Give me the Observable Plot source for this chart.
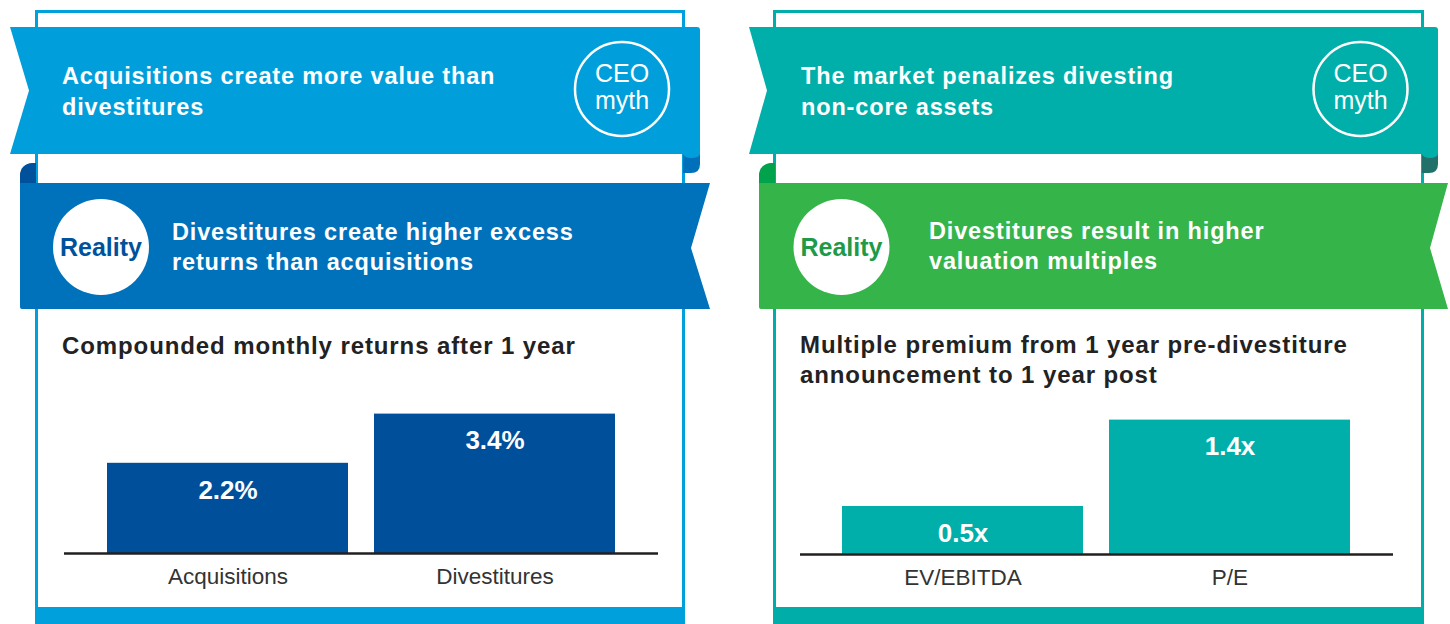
<!DOCTYPE html>
<html><head><meta charset="utf-8">
<script src="https://cdn.jsdelivr.net/npm/d3@7"></script>
<script src="https://cdn.jsdelivr.net/npm/@observablehq/plot@0.6"></script>
<style>
html,body{margin:0;padding:0;background:#fff;}
#root{position:relative;width:1450px;height:624px;overflow:hidden;background:#fff;}
#deco{position:absolute;left:0;top:0;}
.chart{position:absolute;}
.bt{font-family:'Liberation Sans',Arial,sans-serif;font-weight:bold;font-size:23.5px;letter-spacing:0.85px;fill:#fff;}
.st{font-family:'Liberation Sans',Arial,sans-serif;font-weight:bold;font-size:24px;letter-spacing:0.9px;fill:#222;}
.ceo{font-family:'Liberation Sans',Arial,sans-serif;font-size:25px;fill:#fff;text-anchor:middle;}
.real{font-family:'Liberation Sans',Arial,sans-serif;font-weight:bold;font-size:25px;text-anchor:middle;}
</style></head><body>
<div id="root">
<svg id="deco" width="1450" height="624">
  <!-- LEFT PANEL -->
  <rect x="36.5" y="11.5" width="647" height="605" fill="none" stroke="#00A0DC" stroke-width="3"/>
  <rect x="35" y="607" width="650" height="17" fill="#00A0DC"/>
  <path d="M683,150 L700,150 L700,164 Q700,173 691,173 L683,173 Z" fill="#0070BA"/>
  <path d="M10,27 L697,27 Q700,27 700,30 L700,154 L10,154 L29,90.5 Z" fill="#009FDB"/>
  <ellipse cx="691.5" cy="154" rx="8.5" ry="4" fill="#009FDB"/>
  <path d="M20,183 L20,175 A12,12 0 0 1 32,163 L36,163 L36,183 Z" fill="#00519C"/>
  <path d="M20,183 L710,183 L691,248 L710,309 L22,309 Q20,309 20,307 Z" fill="#0071BB"/>
  <text class="bt"><tspan x="62" y="84">Acquisitions create more value than</tspan><tspan x="62" y="115">divestitures</tspan></text>
  <circle cx="622" cy="89" r="47" fill="none" stroke="#fff" stroke-width="2.5"/>
  <text class="ceo"><tspan x="622" y="82">CEO</tspan><tspan x="622" y="109">myth</tspan></text>
  <circle cx="101" cy="247" r="48" fill="#fff"/>
  <text class="real" x="101" y="256" fill="#00529C">Reality</text>
  <text class="bt"><tspan x="172" y="240">Divestitures create higher excess</tspan><tspan x="172" y="270">returns than acquisitions</tspan></text>
  <text class="st" x="62" y="354">Compounded monthly returns after 1 year</text>

  <!-- RIGHT PANEL -->
  <rect x="774.5" y="11.5" width="648" height="605" fill="none" stroke="#00ADA8" stroke-width="3"/>
  <rect x="773" y="607" width="651" height="17" fill="#00ADA8"/>
  <path d="M1422,150 L1438,150 L1438,164 Q1438,173 1429,173 L1422,173 Z" fill="#22706A"/>
  <path d="M749,27 L1435,27 Q1438,27 1438,30 L1438,154 L749,154 L767,90.5 Z" fill="#00AFA9"/>
  <ellipse cx="1430" cy="154" rx="8" ry="4" fill="#00AFA9"/>
  <path d="M759,183 L759,175 A12,12 0 0 1 771,163 L775,163 L775,183 Z" fill="#00A24C"/>
  <path d="M759,183 L1448,183 L1430,248 L1448,309 L761,309 Q759,309 759,307 Z" fill="#35B44A"/>
  <text class="bt"><tspan x="801" y="84">The market penalizes divesting</tspan><tspan x="801" y="115">non-core assets</tspan></text>
  <circle cx="1360.5" cy="89" r="47" fill="none" stroke="#fff" stroke-width="2.5"/>
  <text class="ceo"><tspan x="1360.5" y="82">CEO</tspan><tspan x="1360.5" y="109">myth</tspan></text>
  <circle cx="841.5" cy="247" r="48" fill="#fff"/>
  <text class="real" x="841.5" y="256" fill="#1E9A48">Reality</text>
  <text class="bt"><tspan x="929" y="239">Divestitures result in higher</tspan><tspan x="929" y="269">valuation multiples</tspan></text>
  <text class="st"><tspan x="800" y="353">Multiple premium from 1 year pre-divestiture</tspan><tspan x="800" y="383">announcement to 1 year post</tspan></text>
</svg>
<div class="chart" id="c1" style="left:40px;top:380px"></div>
<div class="chart" id="c2" style="left:780px;top:380px"></div>
</div>
<script>
// Left chart: compounded monthly returns after 1 year (%)
const categoriesA = ["Acquisitions", "Divestitures"];
const valuesA = [2.2, 3.4];
const labelsA = ["2.2%", "3.4%"];
// Right chart: multiple premium (x)
const categoriesB = ["EV/EBITDA", "P/E"];
const valuesB = [0.5, 1.4];
const labelsB = ["0.5x", "1.4x"];

function makeChart(cats, vals, labels, o) {
  const data = cats.map((c, i) => ({cat: c, value: vals[i], label: labels[i]}));
  return Plot.plot({
    width: 640, height: 224,
    marginLeft: o.ml, marginRight: o.mr, marginTop: o.mt, marginBottom: o.mb,
    style: {fontFamily: "'Liberation Sans', Arial, sans-serif", fontSize: "22.5px", color: "#333", background: "transparent", overflow: "visible"},
    x: {domain: cats, paddingInner: 0.097, paddingOuter: 0.157, label: null, tickSize: 0, tickPadding: 15},
    y: {domain: [0, o.ymax], axis: null},
    marks: [
      Plot.barY(data, {x: "cat", y: "value", fill: o.fill}),
      Plot.ruleY([0], {stroke: "#231F20", strokeWidth: 2.5}),
      Plot.text(data, {x: "cat", y: "value", text: "label", dy: 27, fill: "#fff", fontSize: 26, fontWeight: "bold"})
    ]
  });
}
document.getElementById("c1").append(makeChart(categoriesA, valuesA, labelsA, {ml: 24, mr: 22, mt: 9, mb: 51, ymax: 4, fill: "#004F9B"}));
document.getElementById("c2").append(makeChart(categoriesB, valuesB, labelsB, {ml: 20, mr: 27, mt: 20.4, mb: 50, ymax: 1.6, fill: "#00AFA9"}));
</script>
</body></html>
